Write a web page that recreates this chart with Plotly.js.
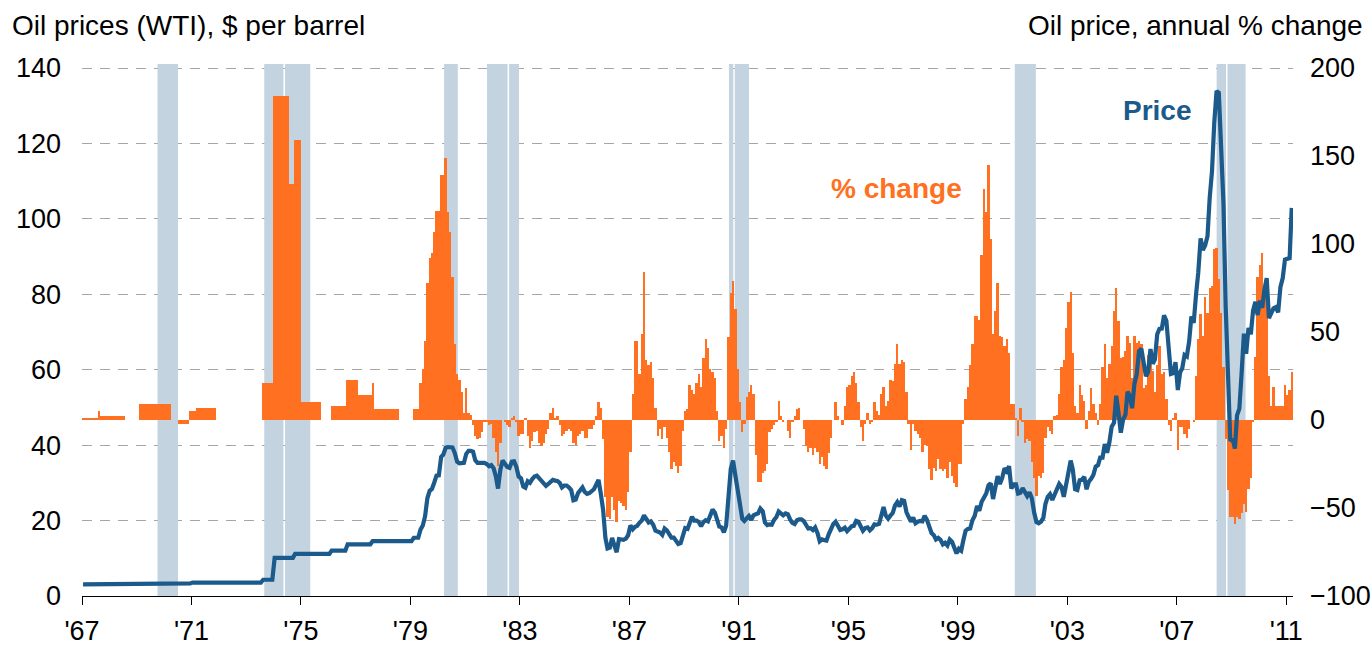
<!DOCTYPE html>
<html><head><meta charset="utf-8">
<script src="https://cdn.plot.ly/plotly-3.0.1.min.js"></script>
<style>html,body{margin:0;padding:0;background:#fff}#chart{width:1372px;height:646px}</style>
</head><body><div id="chart"></div>
<script>
const startYear = 1967;
// WTI oil price, $ per barrel, monthly from Jan 1967 to Mar 2011
const price = [
3.07,3.07,3.07,3.07,3.07,3.07,3.07,3.07,3.07,3.07,3.07,3.07,
3.07,3.07,3.07,3.07,3.07,3.07,3.07,3.07,3.07,3.07,3.07,3.07,
3.07,3.35,3.35,3.35,3.35,3.35,3.35,3.35,3.35,3.35,3.35,3.35,
3.35,3.35,3.35,3.35,3.35,3.35,3.35,3.35,3.35,3.35,3.35,3.35,
3.56,3.56,3.56,3.56,3.56,3.56,3.56,3.56,3.56,3.56,3.56,3.56,
3.56,3.56,3.56,3.56,3.56,3.56,3.56,3.56,3.56,3.56,3.56,3.56,
3.56,3.56,3.56,3.56,3.56,3.56,3.56,4.31,4.31,4.31,4.31,4.31,
10.11,10.11,10.11,10.11,10.11,10.11,10.11,10.11,10.11,11.16,11.16,11.16,
11.16,11.16,11.16,11.16,11.16,11.16,11.16,11.16,11.16,11.16,11.16,11.16,
11.16,12.03,12.03,12.03,12.03,12.03,12.03,12.03,13.70,13.70,13.70,13.70,
13.70,13.70,13.70,13.70,13.70,13.70,13.70,14.55,14.55,14.55,14.55,14.55,
14.55,14.55,14.55,14.55,14.55,14.55,14.55,14.55,14.55,14.55,14.55,14.55,
14.55,15.45,15.45,15.45,17.6,18.7,21.1,25.9,27.9,28.4,30.1,31.9,
32.0,36.9,37.5,39.3,39.5,39.5,39.4,37.9,35.6,35.2,35.3,35.3,
37.7,38.5,38.5,38.3,36.0,35.3,35.3,35.3,35.3,35.0,34.4,34.7,
33.9,31.6,28.5,33.5,35.9,35.1,34.2,34.0,35.6,35.7,34.2,31.7,
31.2,29.0,28.7,30.4,30.0,31.0,31.7,31.9,31.1,30.4,29.8,29.2,
29.7,30.1,30.8,30.6,30.5,30.0,28.8,29.3,29.3,28.8,28.1,25.4,
25.6,27.3,28.2,28.8,27.6,27.1,27.3,27.8,28.3,29.5,30.8,27.2,
22.9,15.4,12.6,12.8,15.4,13.4,11.6,15.1,14.9,14.9,15.2,16.1,
18.7,17.7,18.3,18.6,19.4,20.0,21.4,20.3,19.5,19.8,18.9,17.3,
17.1,16.8,16.2,17.9,17.4,16.5,15.5,15.5,14.5,13.8,14.0,16.3,
18.0,17.8,19.4,21.0,20.0,20.0,19.6,18.5,19.6,20.1,19.8,21.1,
22.9,22.1,20.4,18.4,18.2,16.9,18.6,27.2,33.7,35.9,32.3,27.3,
25.2,20.5,19.9,20.8,21.2,20.2,21.4,21.7,21.9,23.2,22.5,19.5,
18.8,19.0,18.9,20.2,20.9,22.4,21.8,21.4,21.9,21.7,20.3,19.4,
19.1,20.1,20.3,20.3,19.9,19.1,17.9,18.0,17.5,18.2,16.7,14.5,
15.0,14.8,14.7,16.4,17.9,19.1,19.7,18.4,17.5,17.7,18.1,17.2,
18.0,18.5,18.6,19.9,19.7,18.4,17.3,18.0,18.2,17.4,18.0,19.0,
18.9,19.1,21.4,23.6,21.3,20.5,21.3,22.0,24.0,24.9,23.7,25.4,
25.2,22.2,21.0,19.7,20.8,19.3,19.7,19.9,19.8,21.3,20.2,18.3,
16.7,16.1,15.0,15.4,14.9,13.7,14.1,13.4,15.0,14.4,12.9,11.3,
12.5,12.0,14.7,17.3,17.8,17.9,20.1,21.3,23.9,22.6,25.0,26.1,
27.2,29.4,29.9,25.7,28.8,31.8,29.7,31.3,33.9,33.1,34.4,28.5,
29.6,29.6,27.2,27.4,28.6,27.6,26.5,27.5,25.9,22.2,19.6,19.3,
19.7,20.7,24.4,26.3,27.0,25.5,26.9,28.4,29.7,28.9,26.3,29.4,
32.9,35.9,33.6,28.3,28.1,30.7,30.8,31.6,28.3,30.3,31.1,32.1,
34.3,34.7,36.7,36.7,40.3,38.0,40.7,44.9,45.9,53.1,48.5,43.3,
46.8,48.1,54.2,53.0,49.8,56.3,58.7,64.9,65.6,62.4,58.3,59.4,
65.5,61.6,62.7,69.4,70.8,70.9,74.4,73.0,63.8,58.9,59.1,62.0,
54.6,59.3,60.4,63.9,63.5,67.5,74.1,72.4,79.9,85.8,94.8,91.7,
93.0,95.4,105.5,112.6,125.4,133.9,133.4,116.7,104.1,76.6,57.3,41.1,
41.7,39.1,47.9,49.7,59.0,69.6,64.2,71.1,69.4,75.7,78.0,74.5,
78.3,76.4,81.2,84.3,73.7,75.3,76.3,76.6,75.2,81.9,84.3,89.2,
89.4,89.6,102.9
];
// Oil price, annual % change, monthly from Jan 1967 to Mar 2011
const pctChange = [
1,1,1,1,1,1,1,5,2,2,2,2,
2,2,2,2,2,2,2,0,0,0,0,0,
0,9,9,9,9,9,9,9,9,9,9,9,
9,9,9,0,0,0,-2,-2,-2,-2,-2,5,
5,5,7,7,7,7,7,7,7,7,7,0,
0,0,0,0,0,0,0,0,0,0,0,0,
0,0,0,0,0,0,0,21,21,21,21,21,
184,184,184,184,184,184,184,134,134,159,159,159,
10,10,10,10,10,10,10,10,10,0,0,0,
0,8,8,8,8,8,8,8,23,23,23,23,
23,14,14,14,14,14,14,21,6,6,6,6,
6,6,6,6,6,6,6,0,0,0,0,0,
0,6,6,6,21,29,45,78,92,95,107,119,
119,139,139,149,118,107,81,43,26,23,16,4,
18,4,3,-3,-9,-11,-10,-7,-1,-1,-3,-2,
-10,-18,-26,-13,0,-1,-3,-4,1,2,-1,-9,
-8,-8,1,-9,-16,-12,-7,-6,-13,-15,-13,-8,
-5,4,7,1,2,-3,-9,-8,-6,-5,-6,-13,
-14,-9,-8,-6,-10,-10,-5,-5,-3,2,10,7,
-11,-44,-55,-56,-44,-51,-58,-46,-47,-49,-51,-41,
-18,15,45,45,26,49,84,34,31,33,24,7,
-9,-5,-11,-4,-10,-18,-28,-24,-26,-30,-26,-6,
5,6,20,17,15,21,26,19,35,46,41,29,
27,24,5,-12,-9,-16,-5,47,72,79,63,29,
10,-7,-2,13,16,20,15,-20,-35,-35,-30,-29,
-25,-7,-5,-3,-1,11,2,-1,0,-6,-10,-1,
2,6,7,0,-5,-15,-18,-16,-20,-16,-18,-25,
-21,-26,-28,-19,-10,0,10,2,0,-3,8,19,
20,25,27,21,10,-4,-12,-2,4,-2,-1,10,
5,3,15,19,8,11,23,22,32,43,32,34,
33,16,-2,-17,-2,-6,-8,-10,-18,-14,-15,-28,
-34,-27,-29,-22,-28,-29,-28,-33,-24,-32,-36,-38,
-25,-25,-2,12,19,31,43,59,59,57,94,131,
118,145,103,49,62,78,48,47,42,46,38,9,
9,1,-9,7,-1,-13,-11,-12,-24,-33,-43,-32,
-33,-30,-10,-4,-6,-8,2,3,15,30,34,52,
67,73,38,8,4,20,14,11,-5,5,18,9,
4,-3,9,30,43,24,32,42,62,75,56,35,
36,39,48,44,24,48,44,45,43,18,20,37,
40,28,16,31,42,26,27,12,-3,-6,1,4,
-17,-4,-4,-8,-10,-5,0,-1,25,46,60,48,
70,61,75,76,97,98,80,61,30,-11,-40,-55,
-55,-59,-55,-56,-53,-48,-52,-39,-33,-1,36,81,
88,95,70,70,25,8,19,8,8,8,8,20,
14,17,27
];
// Recession shading periods (start / end)
const recessionStart = ['1969-10-05','1973-08-29','1974-06-03','1980-03-25','1981-10-19','1982-08-10','1990-08-22','1990-11-07','2001-01-30','2008-06-16','2008-11-08'];
const recessionEnd   = ['1970-07-05','1974-05-12','1975-05-05','1980-09-24','1982-07-20','1982-12-20','1990-10-19','1991-05-16','2001-11-07','2008-10-19','2009-07-07'];
const tickYears  = [1967,1971,1975,1979,1983,1987,1991,1995,1999,2003,2007,2011];
const tickLabels = ["'67","'71","'75","'79","'83","'87","'91","'95","'99","'03","'07","'11"];
const priceTicks = [0,20,40,60,80,100,120,140];
const pctTicks = [-100,-50,0,50,100,150,200];

const months = price.map((_, i) => {
  const y = startYear + Math.floor(i / 12);
  const m = (i % 12) + 1;
  return y + '-' + (m < 10 ? '0' + m : m) + '-15';
});

const BLUE = '#1B5A8A', ORANGE = '#FF7020', BAND = '#C3D3E0';
const FONT = 'Liberation Sans, Arial, Helvetica, sans-serif';

const bars = {
  type: 'bar', x: months, y: pctChange, yaxis: 'y',
  marker: {color: ORANGE, line: {width: 0}},
  width: 31 * 24 * 3600 * 1000, hoverinfo: 'x+y'
};
const line = {
  type: 'scatter', mode: 'lines', x: months, y: price, yaxis: 'y2',
  line: {color: BLUE, width: 4.2}, hoverinfo: 'x+y'
};

// plot spans y pixels 64..596; 140 on the price axis sits at 68
const topPrice = 140 * 532 / 528;
const topPct = -100 + 300 * 532 / 528;

const shapes = recessionStart.map((s, i) => ({
  type: 'rect', xref: 'x', yref: 'y', x0: s, x1: recessionEnd[i],
  y0: -100, y1: topPct, fillcolor: BAND, line: {width: 0}, layer: 'between'
}));

const layout = {
  width: 1372, height: 646,
  margin: {l: 82, r: 79, t: 64, b: 50, pad: 0},
  paper_bgcolor: '#fff', plot_bgcolor: 'rgba(0,0,0,0)',
  showlegend: false, bargap: 0,
  font: {family: FONT, size: 27, color: '#000'},
  xaxis: {
    type: 'date', range: ['1967-01-01', '2011-04-01'],
    tickvals: tickYears.map(y => y + '-01-01'), ticktext: tickLabels,
    ticks: 'outside', ticklen: 8, tickwidth: 1, tickcolor: '#000',
    showline: true, linecolor: '#000', linewidth: 1.2,
    showgrid: false, zeroline: false,
    tickfont: {family: FONT, size: 27, color: '#000'}, ticklabelstandoff: 2
  },
  yaxis: {
    side: 'right', range: [-100, topPct], tickvals: pctTicks,
    showgrid: false, zeroline: false, showline: false, ticks: '',
    tickfont: {family: FONT, size: 27, color: '#000'}, ticklabelstandoff: 16
  },
  yaxis2: {
    side: 'left', overlaying: 'y', range: [0, topPrice], tickvals: priceTicks,
    showgrid: true, gridcolor: '#A6A6A6', gridwidth: 1, griddash: '10px,8px',
    zeroline: false, showline: false, ticks: '',
    tickfont: {family: FONT, size: 27, color: '#000'}, ticklabelstandoff: 20
  },
  shapes: shapes,
  annotations: [
    {xref: 'paper', yref: 'paper', x: -0.0595, y: 1.0724, xanchor: 'left', yanchor: 'middle',
     text: 'Oil prices (WTI), $ per barrel', showarrow: false, font: {family: FONT, size: 28, color: '#000'}},
    {xref: 'paper', yref: 'paper', x: 1.0595, y: 1.0724, xanchor: 'right', yanchor: 'middle',
     text: 'Oil price, annual % change', showarrow: false, font: {family: FONT, size: 28, color: '#000'}},
    {xref: 'paper', yref: 'paper', x: 0.8881, y: 0.9117, xanchor: 'center', yanchor: 'middle',
     text: '<b>Price</b>', showarrow: false, font: {family: FONT, size: 28, color: BLUE}},
    {xref: 'paper', yref: 'paper', x: 0.6727, y: 0.7669, xanchor: 'center', yanchor: 'middle',
     text: '<b>% change</b>', showarrow: false, font: {family: FONT, size: 28, color: ORANGE}}
  ]
};

Plotly.newPlot('chart', [bars, line], layout, {displayModeBar: false, staticPlot: true});
</script></body></html>
